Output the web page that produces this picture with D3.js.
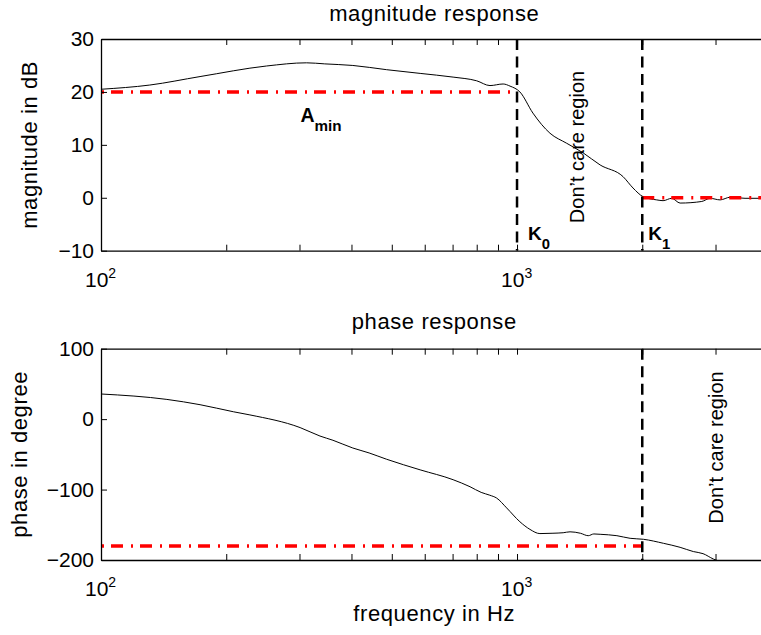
<!DOCTYPE html>
<html>
<head>
<meta charset="utf-8">
<script src="https://cdn.jsdelivr.net/npm/d3@7"></script>
<style>
  body { margin: 0; background: #fff; }
  svg { display: block; font-family: "Liberation Sans", Arial, Helvetica, sans-serif; }
  .tick line { stroke: #000; }
  .domain { stroke: #000; }
  .lbl { font-size: 22px; letter-spacing: 0.6px; }
</style>
</head>
<body>
<script>
// magnitude response (Hz, dB)
const magFreq = [100, 131, 173, 250, 312, 345, 403, 486, 585, 702, 800, 861, 926, 962, 1016, 1092, 1200, 1316, 1441, 1584, 1798, 1900, 2010, 2167, 2244, 2354, 2466, 2780, 2911, 3077, 3252, 3532, 4000]
const magDb   = [20.5, 21.3, 22.9, 24.9, 25.5, 25.3, 25.0, 24.2, 23.5, 22.8, 22.1, 21.2, 21.5, 21.1, 20.0, 16.0, 12.2, 10.3, 8.5, 6.2, 4.0, 1.85, 0.2, -0.4, -0.55, -0.1, -1.0, -0.7, -0.1, -0.4, 0.1, -0.1, -0.1]

// phase response (Hz, degree)
const phaseFreq = [100, 144, 173, 208, 228, 301, 336, 361, 403, 441, 486, 585, 702, 771, 820, 860, 893, 944, 1016, 1074, 1135, 1220, 1291, 1341, 1420, 1483, 1530, 1584, 1738, 1870, 2013, 2249, 2466, 2653, 2800, 2964, 3100]
const phaseDeg  = [35.7, 28, 20.5, 10.5, 6, -12, -24, -30, -41, -48, -57, -72, -86, -96, -104, -108, -112, -126, -145.7, -156.5, -162.5, -162, -161.3, -160, -162, -165.5, -163, -163.5, -165.5, -169.2, -170.6, -176.3, -182, -188, -191, -198.6, -203]

// spec lines
const magSpec   = [{f: [100, 1000], v: 20}, {f: [2000, 4000], v: 0}]
const phaseSpec = [{f: [100, 2000], v: -180}]
const magEdges = [1000, 2000]
const phaseEdges = [2000]

const magTicks = [-10, 0, 10, 20, 30]
const phaseTicks = [-200, -100, 0, 100]
const freqTicks = [100, 200, 300, 400, 500, 600, 700, 800, 900, 1000, 2000, 3000, 4000]
const freqLabels = [{f: 100, e: '2'}, {f: 1000, e: '3'}]

const W = 761, H = 635
const svg = d3.select('body').append('svg')
    .attr('width', W)
    .attr('height', H)

const x = d3.scaleLog().domain([100, 4000]).range([101, 767.5])
const midX = (x.range()[0] + x.range()[1]) / 2

const panels = [
    {id: 'mag', top: 39, bottom: 250.7, dom: [-10, 30], ticks: magTicks, freq: magFreq, vals: magDb,
     spec: magSpec, edges: magEdges, title: 'magnitude response', titleY: 21,
     ylabel: 'magnitude in dB', ylabelX: 37},
    {id: 'phase', top: 348.7, bottom: 560, dom: [-200, 100], ticks: phaseTicks, freq: phaseFreq, vals: phaseDeg,
     spec: phaseSpec, edges: phaseEdges, title: 'phase response', titleY: 328.5,
     ylabel: 'phase in degree', ylabelX: 27}
]

panels.forEach(p => {
    const y = d3.scaleLinear().domain(p.dom).range([p.bottom, p.top])
    const g = svg.append('g')

    g.append('clipPath').attr('id', 'clip-' + p.id)
        .append('rect')
        .attr('x', x.range()[0]).attr('y', p.top)
        .attr('width', x.range()[1] - x.range()[0]).attr('height', p.bottom - p.top)

    const plot = g.append('g').attr('clip-path', `url(#clip-${p.id})`)

    // curve
    const pts = p.freq.map((f, i) => [f, p.vals[i]])
    plot.append('path')
        .datum(pts)
        .attr('fill', 'none')
        .attr('stroke', '#000')
        .attr('stroke-width', 1)
        .attr('d', d3.line().x(d => x(d[0])).y(d => y(d[1])).curve(d3.curveMonotoneX))

    // red spec lines
    p.spec.forEach(s => {
        plot.append('line')
            .attr('x1', x(s.f[0])).attr('x2', x(s.f[1]))
            .attr('y1', y(s.v)).attr('y2', y(s.v))
            .attr('stroke', '#ff0000')
            .attr('stroke-width', 3.5)
            .attr('stroke-dasharray', '12,8,2,7')
            .attr('stroke-dashoffset', s.f[0] === 100 ? 19 : 0)
    })

    // band edges
    p.edges.forEach(f => {
        plot.append('line')
            .attr('x1', x(f)).attr('x2', x(f))
            .attr('y1', p.top).attr('y2', p.bottom)
            .attr('stroke', '#000')
            .attr('stroke-width', 2.5)
            .attr('stroke-dasharray', '11,6.5')
    })

    // axes (ticks inward, matlab style)
    g.append('g').attr('transform', `translate(${x.range()[0]},0)`)
        .call(d3.axisLeft(y).tickValues(p.ticks).tickSize(-6).tickSizeOuter(0).tickPadding(7)
            .tickFormat(d => d < 0 ? '\u2212' + Math.abs(d) : d))
        .call(a => a.selectAll('text').attr('font-size', 21).attr('font-family', null).attr('fill', '#000'))
    g.append('g').attr('transform', `translate(${x.range()[1]},0)`)
        .call(d3.axisRight(y).tickValues(p.ticks).tickSize(-6).tickSizeOuter(0).tickFormat(''))
    g.append('g').attr('transform', `translate(0,${p.bottom})`)
        .call(d3.axisBottom(x).tickValues(freqTicks).tickSize(-6).tickSizeOuter(0).tickFormat(''))
    g.append('g').attr('transform', `translate(0,${p.top})`)
        .call(d3.axisTop(x).tickValues(freqTicks).tickSize(-6).tickSizeOuter(0).tickFormat(''))
    g.selectAll('.domain').attr('stroke-width', 1.3)

    // x labels 10^n
    freqLabels.forEach(l => {
        const t = g.append('text')
            .attr('x', x(l.f) - 16)
            .attr('y', p.bottom + 36)
            .attr('font-size', 21)
        t.append('tspan').text('10')
        t.append('tspan').attr('dy', -9).attr('font-size', 14).text(l.e)
    })

    g.append('text')
        .attr('class', 'lbl')
        .attr('x', midX)
        .attr('y', p.titleY)
        .attr('text-anchor', 'middle')
        .text(p.title)

    g.append('text')
        .attr('class', 'lbl')
        .attr('transform', `translate(${p.ylabelX},${(p.top + p.bottom) / 2}) rotate(-90)`)
        .attr('text-anchor', 'middle')
        .text(p.ylabel)
})

// annotations
const sub = (sel, px, py, main, s, size) => {
    const t = sel.append('text').attr('x', px).attr('y', py)
        .attr('font-size', size).attr('font-weight', 'bold')
    t.append('tspan').text(main)
    t.append('tspan').attr('dy', size * 0.45).attr('font-size', size * 0.78).text(s)
}
sub(svg, 300.5, 122, 'A', 'min', 19.5)
sub(svg, x(1000) + 11, 240, 'K', '0', 19)
sub(svg, x(2000) + 6, 240, 'K', '1', 19)

svg.append('text')
    .attr('transform', `translate(584,147) rotate(-90)`)
    .attr('text-anchor', 'middle')
    .attr('font-size', 20)
    .text('Don\u2019t care region')
svg.append('text')
    .attr('transform', `translate(722.5,447.5) rotate(-90)`)
    .attr('text-anchor', 'middle')
    .attr('font-size', 20)
    .text('Don\u2019t care region')

svg.append('text')
    .attr('class', 'lbl')
    .attr('x', midX)
    .attr('y', 621)
    .attr('text-anchor', 'middle')
    .text('frequency in Hz')
</script>
</body>
</html>
